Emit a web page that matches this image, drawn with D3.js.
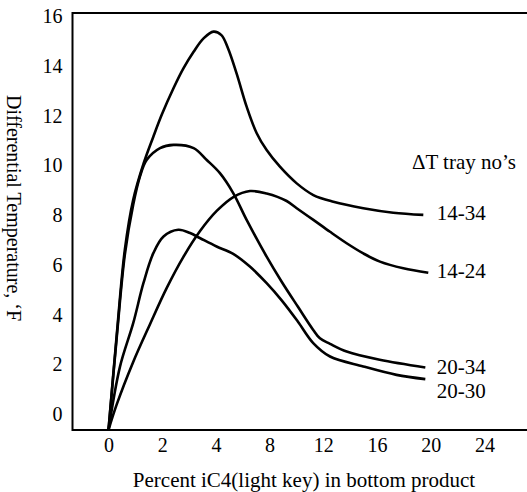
<!DOCTYPE html>
<html>
<head>
<meta charset="utf-8">
<script src="https://cdn.jsdelivr.net/npm/d3@7"></script>
<style>
    body { margin: 0; background: #fff; }
    svg { display: block; font-family: "Liberation Serif", "Times New Roman", serif; }
</style>
</head>
<body>
<svg width="527" height="492"></svg>
<script>
// tick values (x axis is not uniform: 0,2,4 then step 4)
const xTicks = [0, 2, 4, 8, 12, 16, 20, 24]
const yTicks = [0, 2, 4, 6, 8, 10, 12, 14, 16]

// series
const names = ["14-34", "14-24", "20-34", "20-30"]

const x1434 = [0, 0.31, 0.61, 0.92, 1.31, 1.67, 1.99, 2.42, 2.79, 3.17, 3.54, 3.91, 4.41, 4.9, 5.54, 6.29, 7.04, 7.78, 8.77, 10.02, 11.26, 12.75, 14.98, 17.21, 19.45]
const y1434 = [-0.67, 3.2, 6.6, 8.6, 10.07, 11.14, 12.04, 13.09, 13.89, 14.56, 15.1, 15.37, 15.23, 14.7, 13.69, 12.35, 11.28, 10.6, 9.93, 9.26, 8.79, 8.52, 8.26, 8.08, 7.99]

const x1424 = [0, 0.3, 0.92, 1.55, 2.17, 2.79, 3.41, 4.06, 5.3, 6.54, 7.78, 9.27, 10.02, 11.26, 12.5, 13.74, 14.98, 16.22, 17.96, 19.82]
const y1424 = [-0.67, 0.34, 2.07, 3.6, 5.05, 6.3, 7.34, 8.15, 8.71, 8.95, 8.85, 8.55, 8.26, 7.79, 7.31, 6.85, 6.44, 6.11, 5.84, 5.66]

const x2034 = [0, 0.31, 0.61, 0.92, 1.17, 1.42, 1.92, 2.42, 3.17, 3.66, 4.3, 5.29, 6.29, 7.78, 8.9, 10.1, 11.25, 11.75, 12.5, 13.74, 16.2, 19.6]
const y2034 = [-0.67, 3.1, 6.4, 8.4, 9.53, 10.2, 10.68, 10.81, 10.68, 10.2, 9.67, 8.87, 7.79, 6.31, 5.3, 4.3, 3.36, 3.02, 2.8, 2.49, 2.16, 1.85]

const x2030 = [0, 0.43, 0.92, 1.3, 1.67, 2.05, 2.6, 3.04, 3.42, 4.05, 5.29, 6.53, 7.78, 8.9, 10.1, 11.25, 12.5, 14.98, 17.45, 19.6]
const y2030 = [-0.67, 1.89, 3.63, 5.24, 6.45, 7.12, 7.39, 7.26, 7.05, 6.72, 6.42, 5.91, 5.24, 4.55, 3.7, 2.83, 2.29, 1.89, 1.55, 1.38]

// where the series names sit (data units)
const labelX = [20.45, 20.45, 20.45, 20.45]
const labelY = [8.1, 5.75, 1.88, 0.92]
const legendTitle = "ΔT tray no’s"

const xTitle = "Percent iC4(light key) in bottom product"
const yTitle = "Differential Temperature, ‘F"

let svg = d3.select("svg")

const attr_area = {
    width: 527,
    height: 492,
    left: 72.5,
    top: 13,
    bottom: 430
}

// piecewise linear x scale: ticks equally spaced on paper
let scaleX = d3.scaleLinear()
    .domain(xTicks)
    .range(xTicks.map((d, i) => 108.5 + i * 53.7))

let scaleY = d3.scaleLinear()
    .domain([-0.67, 16.12])
    .range([attr_area.bottom, attr_area.top])

// frame: left, top and bottom lines
svg.append("path")
    .attr("d", `M${attr_area.width},${attr_area.top} H${attr_area.left} V${attr_area.bottom} H${attr_area.width}`)
    .style("fill", "none")
    .style("stroke", "#000")
    .style("stroke-width", 2)

// axes, labels only
let axisX = d3.axisBottom(scaleX).tickValues(xTicks).tickSize(0).tickPadding(0)
let axisY = d3.axisLeft(scaleY).tickValues(yTicks).tickSize(0).tickPadding(0)

let gx = svg.append("g")
    .attr("transform", `translate(0, ${attr_area.bottom})`)
    .call(axisX)
gx.select(".domain").remove()
gx.selectAll("text")
    .attr("y", 15)
    .attr("dy", "0.35em")
    .style("font-family", "Liberation Serif")
    .style("font-size", "20px")
    .style("fill", "#000")

let gy = svg.append("g")
    .attr("transform", `translate(${attr_area.left}, 0)`)
    .call(axisY)
gy.select(".domain").remove()
gy.selectAll("text")
    .attr("x", -10)
    .attr("dy", "0.35em")
    .style("font-family", "Liberation Serif")
    .style("font-size", "20px")
    .style("fill", "#000")

// curves
const series = [[x1434, y1434], [x1424, y1424], [x2034, y2034], [x2030, y2030]]

const lineGen = d3.line()
    .x(d => scaleX(d[0]))
    .y(d => scaleY(d[1]))
    .curve(d3.curveCatmullRom.alpha(0.5))

series.forEach(s => {
    let pts = s[0].map((v, i) => [v, s[1][i]])
    svg.append("path")
        .datum(pts)
        .attr("d", lineGen)
        .style("fill", "none")
        .style("stroke", "#000")
        .style("stroke-width", 2.6)
        .style("stroke-linejoin", "round")
})

// series names
svg.selectAll(".name")
    .data(names)
    .enter()
    .append("text")
    .attr("class", "name")
    .attr("x", (d, i) => scaleX(labelX[i]))
    .attr("y", (d, i) => scaleY(labelY[i]))
    .attr("dy", "0.35em")
    .style("font-size", "21px")
    .text(d => d)

svg.append("text")
    .attr("x", scaleX(18.6))
    .attr("y", scaleY(10.15))
    .attr("dy", "0.35em")
    .style("font-size", "21px")
    .text(legendTitle)

// axis titles
svg.append("text")
    .attr("x", 304)
    .attr("y", 480)
    .attr("dy", "0.35em")
    .attr("text-anchor", "middle")
    .style("font-size", "21px")
    .text(xTitle)

svg.append("text")
    .attr("transform", "translate(13.5, 208) rotate(90)")
    .attr("dy", "0.35em")
    .attr("text-anchor", "middle")
    .style("font-size", "20px")
    .text(yTitle)
</script>
</body>
</html>
